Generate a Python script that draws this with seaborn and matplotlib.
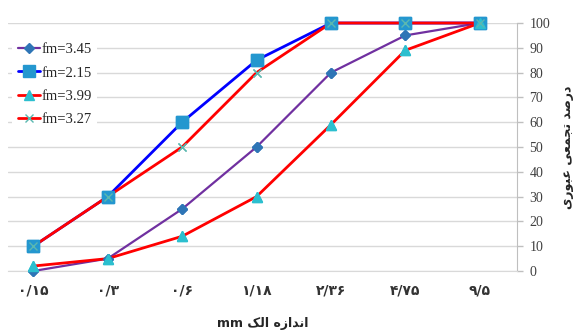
import matplotlib
matplotlib.use("Agg")
import matplotlib.pyplot as plt
import seaborn as sns

# sieve sizes (Persian digits) and cumulative passing percentages
sieve_labels = ["۰/۱۵", "۰/۳", "۰/۶", "۱/۱۸", "۲/۳۶", "۴/۷۵", "۹/۵"]
fm_345 = [0, 5, 25, 50, 80, 95, 100]
fm_215 = [10, 30, 60, 85, 100, 100, 100]
fm_399 = [2, 5, 14, 30, 59, 89, 100]
fm_327 = [10, 30, 50, 80, 100, 100, 100]
series_names = ["fm=3.45", "fm=2.15", "fm=3.99", "fm=3.27"]
y_ticks = list(range(0, 101, 10))

# Persian text, shaped by hand (presentation forms, visual order)
x_title = "mm \uFB8F\uFEDF\uFE8D \uFEE9\uFEAF\uFE8D\uFEAA\uFEE7\uFE8D"
y_title = ("\uFBFC\uFEAD\uFEEE\uFE92\uFECB \uFBFD\uFECC\uFEE4\uFEA0\uFE97 "
           "\uFEAA\uFEBB\uFEAD\uFEA9")

sns.set_style("white")
plt.rcParams["font.family"] = ["Liberation Serif", "DejaVu Sans"]

fig = plt.figure(figsize=(5.81, 3.34), dpi=100)
ax = fig.add_axes([0.0138, 0.1886, 0.876, 0.7425])

pos = list(range(len(sieve_labels)))
styles = [
    (fm_345, "#7030A0", "D", "#2E75B6", 5.5, 1.6),
    (fm_215, "#0000FF", "s", "#2497CF", 8, 2.0),
    (fm_399, "#FF0000", "^", "#2CBFCF", 7.5, 2.0),
    (fm_327, "#FF0000", "x", "#5BB8B0", 6, 2.0),
]

for (vals, lc, m, mc, ms, lw), name in zip(styles, series_names):
    sns.lineplot(x=pos, y=vals, ax=ax, color=lc, lw=lw, marker=m, ms=ms,
                 markerfacecolor=mc, markeredgecolor=mc, mew=1,
                 label=name, clip_on=False, zorder=3)

# markers over every line
for vals, lc, m, mc, ms, lw in styles:
    ax.plot(pos, vals, ls="none", marker=m, ms=ms, markerfacecolor=mc,
            markeredgecolor=mc, mew=1, clip_on=False, zorder=4)

ax.set_xlim(-0.34, 6.5)
ax.set_ylim(0, 100)
ax.set_xticks(pos)
ax.set_xticklabels(sieve_labels, fontsize=10, fontweight="bold",
                   family=["DejaVu Sans"], color="#333333")
ax.set_xticks([0.5, 1.5, 2.5, 3.5, 4.5, 5.5], minor=True)
ax.tick_params(axis="x", which="major", length=0, pad=9)
ax.tick_params(axis="x", which="minor", length=4, color="#BFBFBF", width=1)

ax.yaxis.tick_right()
ax.yaxis.set_label_position("right")
ax.set_yticks(y_ticks)
ax.tick_params(axis="y", length=4, color="#BFBFBF", width=1, pad=5,
               labelsize=10, labelcolor="#404040")

ax.grid(axis="y", color="#D9D9D9", lw=1)
ax.grid(axis="x", visible=False)
for s in ["top", "left"]:
    ax.spines[s].set_visible(False)
ax.spines["right"].set_color("#BFBFBF")
ax.spines["bottom"].set_color("#D9D9D9")

ax.set_xlabel(x_title, fontsize=9, fontweight="bold",
              family=["DejaVu Sans"], labelpad=14)
ax.set_ylabel(y_title, fontsize=9, fontweight="bold",
              family=["DejaVu Sans"], rotation=90, labelpad=8)

leg = ax.legend(loc="upper left", bbox_to_anchor=(0.0207, 0.889),
                bbox_transform=fig.transFigure, borderaxespad=0,
                fontsize=10.5, handlelength=1.5, handletextpad=0.1,
                labelspacing=0.7, frameon=True, facecolor="white",
                edgecolor="none", framealpha=1, fancybox=False)
leg.set_zorder(5)

fig.savefig("out.png", dpi=100)
